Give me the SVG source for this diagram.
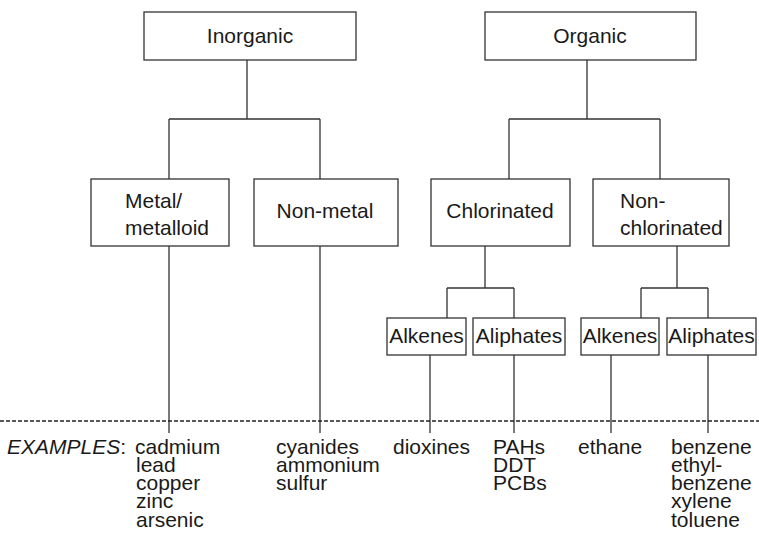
<svg xmlns="http://www.w3.org/2000/svg" width="759" height="533" viewBox="0 0 759 533">
<style>
.box{fill:#fff;stroke:#333;stroke-width:1.3}
.ln{fill:none;stroke:#333;stroke-width:1.3}
text{font-family:"Liberation Sans",Arial,sans-serif;font-size:21px;fill:#1a1a1a}
.c{text-anchor:middle}
.dash{stroke:#222;stroke-width:1.3;stroke-dasharray:4 2}
</style>
<rect width="759" height="533" fill="#fff"/>
<g id="connectors">
<path class="ln" d="M247 60V119M169 119H320M169 119V179M320 119V179"/>
<path class="ln" d="M587 60V119M509 119H660M509 119V179M660 119V179"/>
<path class="ln" d="M169 246V433M320 246V433"/>
<path class="ln" d="M485 246V288M447 288H514M447 288V318M514 288V318"/>
<path class="ln" d="M677 246V288M641 288H708M641 288V318M708 288V318"/>
<path class="ln" d="M430 355V433M514 355V433M611 355V433M708 355V433"/>
<line class="dash" x1="0" y1="421" x2="759" y2="421"/>
</g>
<g id="inorganic"><rect class="box" x="144" y="12" width="212" height="48"/><text class="c" x="250" y="43">Inorganic</text></g>
<g id="organic"><rect class="box" x="485" y="12" width="211" height="48"/><text class="c" x="590" y="43">Organic</text></g>
<g id="metal"><rect class="box" x="91" y="179" width="138" height="67"/><text x="125" y="208">Metal/</text><text x="125" y="235">metalloid</text></g>
<g id="nonmetal"><rect class="box" x="254" y="179" width="144" height="67"/><text class="c" x="325" y="218">Non-metal</text></g>
<g id="chlorinated"><rect class="box" x="431" y="179" width="139" height="67"/><text class="c" x="500" y="218">Chlorinated</text></g>
<g id="nonchlorinated"><rect class="box" x="593" y="179" width="136" height="67"/><text x="620" y="208">Non-</text><text x="620" y="235">chlorinated</text></g>
<g id="alkenes1"><rect class="box" x="387" y="318" width="79" height="37"/><text class="c" x="426.5" y="343">Alkenes</text></g>
<g id="aliphates1"><rect class="box" x="473" y="318" width="92" height="37"/><text class="c" x="519" y="343">Aliphates</text></g>
<g id="alkenes2"><rect class="box" x="581" y="318" width="78" height="37"/><text class="c" x="620" y="343">Alkenes</text></g>
<g id="aliphates2"><rect class="box" x="667" y="318" width="89" height="37"/><text class="c" x="711.5" y="343">Aliphates</text></g>
<g id="examples">
<text x="7" y="454"><tspan font-style="italic">EXAMPLES</tspan>:</text>
<text x="135" y="454">cadmium</text><text x="136" y="472">lead</text><text x="136" y="490">copper</text><text x="136" y="508">zinc</text><text x="136" y="527">arsenic</text>
<text x="276" y="454">cyanides</text><text x="276" y="472">ammonium</text><text x="276" y="490">sulfur</text>
<text x="393" y="454">dioxines</text>
<text x="493" y="454">PAHs</text><text x="493" y="472">DDT</text><text x="493" y="490">PCBs</text>
<text x="578" y="454">ethane</text>
<text x="671" y="454">benzene</text><text x="671" y="472">ethyl-</text><text x="671" y="490">benzene</text><text x="671" y="508">xylene</text><text x="671" y="527">toluene</text>
</g>
</svg>
